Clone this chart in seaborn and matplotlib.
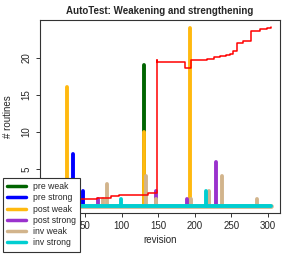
import numpy as np
import pandas as pd
import matplotlib
matplotlib.use("Agg")
import matplotlib.pyplot as plt
import seaborn as sns
from matplotlib.lines import Line2D

# spike series: revision -> number of routines
pre_weak_rev = [131]
pre_weak_cnt = [19]
pre_strong_rev = [34, 48]
pre_strong_cnt = [7, 2]
post_weak_rev = [25, 131, 193]
post_weak_cnt = [16, 10, 24]
post_strong_rev = [68, 147, 190, 229]
post_strong_cnt = [1, 2, 1, 6]
inv_weak_rev = [75, 80, 133, 147, 195, 220, 237, 285]
inv_weak_cnt = [1, 3, 4, 1, 1, 2, 4, 1]
inv_strong_rev = [99, 215]
inv_strong_cnt = [1, 2]

# running total (red step line)
total_rev = [1, 66, 85, 96, 136, 148, 149, 186, 195, 205, 216, 226, 234, 242,
             248, 252, 257, 266, 276, 289, 298, 304]
total_val = [0.9, 1.15, 1.4, 1.5, 1.8, 19.7, 19.45, 18.65, 19.7, 19.75, 19.85,
             20.05, 20.2, 20.35, 20.45, 20.85, 22.0, 22.2, 23.65, 23.85, 24.0, 24.1]

rev_first, rev_last = 1, 304
x_ticks = [0, 50, 100, 150, 200, 250, 300]
y_ticks = [0, 5, 10, 15, 20]

series = [
    ("pre weak", "#006400", pre_weak_rev, pre_weak_cnt),
    ("pre strong", "#0000FF", pre_strong_rev, pre_strong_cnt),
    ("post weak", "#FFB90F", post_weak_rev, post_weak_cnt),
    ("post strong", "#9A32CD", post_strong_rev, post_strong_cnt),
    ("inv weak", "#D2B48C", inv_weak_rev, inv_weak_cnt),
    ("inv strong", "#00CED1", inv_strong_rev, inv_strong_cnt),
]

sns.set_style("white")
plt.rcParams["font.family"] = ["Liberation Sans", "DejaVu Sans"]

fig = plt.figure(figsize=(2.94, 2.54), dpi=100)
ax = fig.add_axes([40 / 294, 1 - 212.7 / 254, 240 / 294, 192.7 / 254])

lw = 2.8
for name, col, revs, cnts in series:
    vl = ax.vlines(revs, 0, cnts, colors=col, linewidth=lw)
    vl.set_capstyle("round")
    if name == "inv weak":
        bl = ax.hlines(0, rev_first, rev_last, colors=col, linewidth=lw + 0.6)
        bl.set_capstyle("round")
bl = ax.hlines(0, rev_first, rev_last, colors="#00CED1", linewidth=lw)
bl.set_capstyle("round")

df = pd.DataFrame({"revision": total_rev, "routines": total_val})
sns.lineplot(data=df, x="revision", y="routines", ax=ax, color="red",
             linewidth=1.1, drawstyle="steps-post", estimator=None, zorder=5)

ax.set_xlim(-11.2, 316.2)
ax.set_ylim(-0.9, 25.1)
# the 0 labels sit behind the legend in the original
ax.set_xticks(x_ticks, [""] + [str(v) for v in x_ticks[1:]])
ax.set_yticks(y_ticks, [""] + [str(v) for v in y_ticks[1:]])
ax.tick_params(axis="both", direction="out", length=3, width=0.7,
               color="#333333", labelsize=7, pad=3, left=True, bottom=True)
for t in ax.get_yticklabels():
    t.set_rotation(90)
    t.set_va("center")
for s in ax.spines.values():
    s.set_color("#333333")
    s.set_linewidth(0.8)

ax.set_title("AutoTest: Weakening and strengthening", fontsize=7,
             fontweight="bold", pad=4.5)
ax.set_xlabel("revision", fontsize=7, labelpad=3)
ax.set_ylabel("# routines", fontsize=7, labelpad=6)

handles = [Line2D([0], [0], color=c, linewidth=2.5) for _, c, _, _ in series]
labels = [n for n, _, _, _ in series]
leg = fig.legend(handles, labels, loc="lower left",
                 bbox_to_anchor=(2.5 / 294, 2.3 / 254), fontsize=6.2,
                 frameon=True, fancybox=False, framealpha=1, edgecolor="#333333",
                 handlelength=2.2, handletextpad=0.8, labelspacing=0.26,
                 borderpad=0.5, borderaxespad=0)
leg.get_frame().set_linewidth(0.8)
leg.set_zorder(10)

fig.savefig("out.png", dpi=100)
